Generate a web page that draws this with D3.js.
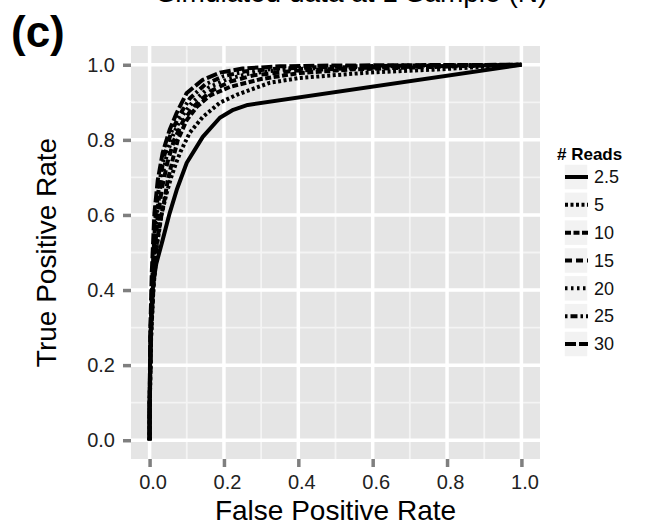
<!DOCTYPE html>
<html>
<head>
<meta charset="utf-8">
<script src="https://cdn.jsdelivr.net/npm/d3@7"></script>
<style>
  html, body { margin: 0; padding: 0; background: #fff; }
  svg { display: block; font-family: "Liberation Sans", Arial, Helvetica, sans-serif; }
</style>
</head>
<body>
<svg id="chart" width="650" height="525"></svg>
<script>
// ROC curves: sensitivity vs. 1 - specificity at several read depths
const readDepths = ["2.5", "5", "10", "15", "20", "25", "30"];

const fpr2_5 = [0, 0, 0.002, 0.005, 0.010, 0.018, 0.035, 0.054, 0.073, 0.100, 0.143, 0.189, 0.225, 0.264, 1.0];
const tpr2_5 = [0, 0.08, 0.25, 0.35, 0.42, 0.47, 0.533, 0.605, 0.667, 0.739, 0.808, 0.859, 0.880, 0.893, 1.0];

const fpr5 = [0, 0, 0.004, 0.010, 0.020, 0.032, 0.045, 0.058, 0.070, 0.083, 0.108, 0.143, 0.189, 0.234, 0.323, 0.404, 0.585, 0.763, 1.0];
const tpr5 = [0, 0.07, 0.27, 0.40, 0.52, 0.60, 0.655, 0.700, 0.735, 0.768, 0.819, 0.861, 0.899, 0.920, 0.952, 0.965, 0.979, 0.987, 1.0];

const fpr10 = [0, 0, 0.004, 0.011, 0.020, 0.032, 0.040, 0.049, 0.062, 0.076, 0.100, 0.127, 0.162, 0.216, 0.300, 0.404, 0.550, 0.750, 1.0];
const tpr10 = [0, 0.07, 0.28, 0.42, 0.53, 0.60, 0.640, 0.693, 0.747, 0.800, 0.853, 0.888, 0.918, 0.941, 0.962, 0.978, 0.988, 0.994, 1.0];

const fpr15 = [0, 0, 0.004, 0.010, 0.020, 0.033, 0.048, 0.066, 0.090, 0.120, 0.165, 0.216, 0.280, 0.400, 0.550, 0.750, 1.0];
const tpr15 = [0, 0.08, 0.30, 0.44, 0.58, 0.67, 0.74, 0.80, 0.85, 0.89, 0.93, 0.955, 0.972, 0.985, 0.991, 0.996, 1.0];

const fpr20 = [0, 0, 0.003, 0.009, 0.018, 0.030, 0.044, 0.062, 0.085, 0.115, 0.160, 0.210, 0.270, 0.360, 0.500, 0.700, 1.0];
const tpr20 = [0, 0.09, 0.30, 0.45, 0.59, 0.68, 0.75, 0.81, 0.86, 0.90, 0.94, 0.962, 0.977, 0.987, 0.993, 0.997, 1.0];

const fpr25 = [0, 0, 0.003, 0.008, 0.016, 0.027, 0.040, 0.058, 0.080, 0.108, 0.150, 0.200, 0.260, 0.350, 0.500, 0.700, 1.0];
const tpr25 = [0, 0.09, 0.30, 0.45, 0.60, 0.69, 0.76, 0.82, 0.865, 0.91, 0.948, 0.970, 0.983, 0.990, 0.995, 0.998, 1.0];

const fpr30 = [0, 0, 0.002, 0.006, 0.013, 0.022, 0.035, 0.054, 0.073, 0.100, 0.143, 0.189, 0.250, 0.350, 0.500, 0.700, 1.0];
const tpr30 = [0, 0.10, 0.30, 0.45, 0.605, 0.693, 0.765, 0.827, 0.872, 0.925, 0.960, 0.979, 0.990, 0.996, 0.998, 0.999, 1.0];

const fprByDepth = [fpr2_5, fpr5, fpr10, fpr15, fpr20, fpr25, fpr30];
const tprByDepth = [tpr2_5, tpr5, tpr10, tpr15, tpr20, tpr25, tpr30];

const tickValues = [0, 0.2, 0.4, 0.6, 0.8, 1.0];
const minorValues = [0.1, 0.3, 0.5, 0.7, 0.9];

// line patterns, one per read depth (solid, 22, 42, 44, 13, 1343, 73)
const dashPatterns = ["none", "3,2.5", "6,2.5", "7,4", "2.5,3.5", "2.5,3,7,3", "11,3"];

const svg = d3.select("#chart");
const panel = { left: 131, right: 540, top: 46, bottom: 459 };

const x = d3.scaleLinear().domain([-0.05, 1.05]).range([panel.left, panel.right]);
const y = d3.scaleLinear().domain([-0.05, 1.05]).range([panel.bottom, panel.top]);

// panel background
svg.append("rect")
  .attr("x", panel.left).attr("y", panel.top)
  .attr("width", panel.right - panel.left).attr("height", panel.bottom - panel.top)
  .attr("fill", "#E5E5E5");

const grid = svg.append("g");
// minor grid
grid.selectAll("line.minor-x").data(minorValues).enter().append("line")
  .attr("x1", d => x(d)).attr("x2", d => x(d))
  .attr("y1", panel.top).attr("y2", panel.bottom)
  .attr("stroke", "#F4F4F4").attr("stroke-width", 1.8);
grid.selectAll("line.minor-y").data(minorValues).enter().append("line")
  .attr("y1", d => y(d)).attr("y2", d => y(d))
  .attr("x1", panel.left).attr("x2", panel.right)
  .attr("stroke", "#F4F4F4").attr("stroke-width", 1.8);
// major grid
grid.selectAll("line.major-x").data(tickValues).enter().append("line")
  .attr("x1", d => x(d)).attr("x2", d => x(d))
  .attr("y1", panel.top).attr("y2", panel.bottom)
  .attr("stroke", "#FFFFFF").attr("stroke-width", 3.5);
grid.selectAll("line.major-y").data(tickValues).enter().append("line")
  .attr("y1", d => y(d)).attr("y2", d => y(d))
  .attr("x1", panel.left).attr("x2", panel.right)
  .attr("stroke", "#FFFFFF").attr("stroke-width", 3.5);

// axes
const fmt = d3.format(".1f");
const xAxis = svg.append("g")
  .attr("transform", `translate(0,${panel.bottom})`)
  .call(d3.axisBottom(x).tickValues(tickValues).tickFormat(fmt).tickSize(8).tickPadding(8));
const yAxis = svg.append("g")
  .attr("transform", `translate(${panel.left},0)`)
  .call(d3.axisLeft(y).tickValues(tickValues).tickFormat(fmt).tickSize(8).tickPadding(8));

[xAxis, yAxis].forEach(ax => {
  ax.select(".domain").remove();
  ax.selectAll(".tick line").attr("stroke", "#7F7F7F").attr("stroke-width", 3.5);
  ax.selectAll(".tick text")
    .attr("fill", "#222").style("font-size", "20px")
    .style("font-family", "'Liberation Sans', Arial, sans-serif");
});
xAxis.selectAll(".tick text").attr("dx", 3);

// curves
const line = d3.line().x(d => x(d[0])).y(d => y(d[1]));
const curves = svg.append("g");
readDepths.forEach((depth, i) => {
  const pts = fprByDepth[i].map((f, k) => [f, tprByDepth[i][k]]);
  curves.append("path")
    .datum(pts)
    .attr("d", line)
    .attr("fill", "none")
    .attr("stroke", "#000")
    .attr("stroke-width", 4)
    .attr("stroke-linejoin", "round")
    .attr("stroke-dasharray", dashPatterns[i]);
});

// axis titles
svg.append("text")
  .attr("x", (panel.left + panel.right) / 2).attr("y", 520)
  .attr("text-anchor", "middle")
  .style("font-size", "28px").attr("fill", "#000")
  .text("False Positive Rate");
svg.append("text")
  .attr("transform", `translate(56,${(panel.top + panel.bottom) / 2}) rotate(-90)`)
  .attr("text-anchor", "middle")
  .style("font-size", "28px").attr("fill", "#000")
  .text("True Positive Rate");

// panel tag and the plot title running off the top edge
svg.append("text")
  .attr("x", 11).attr("y", 47)
  .style("font-size", "44px").style("font-weight", "bold").attr("fill", "#000")
  .text("(c)");
svg.append("text")
  .attr("x", 352).attr("y", 2)
  .attr("text-anchor", "middle")
  .style("font-size", "28px").attr("fill", "#000")
  .text("Simulated data at 1 Sample (N)");

// legend
const legend = svg.append("g");
legend.append("text")
  .attr("x", 557).attr("y", 160)
  .style("font-size", "17px").style("font-weight", "bold").attr("fill", "#000")
  .text("# Reads");
const rowY = d3.scalePoint().domain(readDepths).range([177, 344]);
readDepths.forEach((depth, i) => {
  const cy = rowY(depth);
  legend.append("rect")
    .attr("x", 564).attr("y", cy - 13)
    .attr("width", 24).attr("height", 26)
    .attr("fill", "#F2F2F2").attr("stroke", "#fff").attr("stroke-width", 1.5);
  legend.append("line")
    .attr("x1", 565).attr("x2", 588).attr("y1", cy).attr("y2", cy)
    .attr("stroke", "#000").attr("stroke-width", 4)
    .attr("stroke-dasharray", dashPatterns[i]);
  legend.append("text")
    .attr("x", 594).attr("y", cy)
    .attr("dy", "0.35em")
    .style("font-size", "18px").attr("fill", "#111")
    .text(depth);
});
</script>
</body>
</html>
